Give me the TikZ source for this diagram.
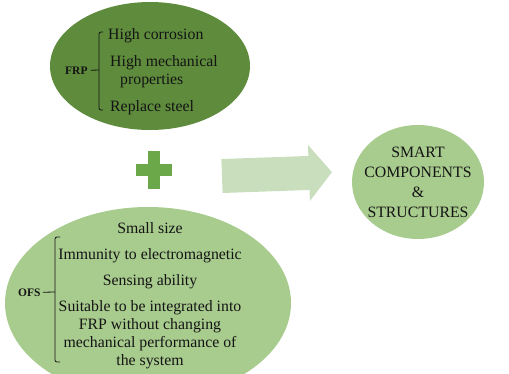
\documentclass[tikz,border=0pt]{standalone}
\usepackage{fontspec}
\setmainfont{Liberation Serif}
\usetikzlibrary{shapes.geometric}
\definecolor{frpgreen}{HTML}{5E8B3C}
\definecolor{lightgreen}{HTML}{A8CB8E}
\definecolor{arrowgreen}{HTML}{C8DEBC}
\definecolor{plusgreen}{HTML}{6AA84A}
\definecolor{inktext}{HTML}{141414}

\begin{document}
\begin{tikzpicture}[x=1pt,y=-1pt,
  blob/.style={ellipse, inner sep=0pt, draw=none},
  item/.style={anchor=base west, inner sep=0pt, text=inktext, font=\rmfamily\fontsize{15.8}{18}\selectfont},
  citem/.style={anchor=base, inner sep=0pt, text=inktext, font=\rmfamily\fontsize{15.8}{18}\selectfont},
  tag/.style={anchor=base west, inner sep=0pt, text=inktext, font=\rmfamily\fontsize{11.5}{13}\selectfont\bfseries},
  brk/.style={draw=inktext, line width=0.8pt, rounded corners=2pt},
]
\useasboundingbox (0,0) rectangle (509,373);
\clip (0,0) rectangle (509,373);

% the three ellipses
\node[blob, fill=frpgreen, minimum width=200, minimum height=128] (frp) at (150,66) {};
\node[blob, fill=lightgreen, minimum width=286, minimum height=192] (ofs) at (148,303) {};
\node[blob, fill=lightgreen, minimum width=132, minimum height=114] (smart) at (418,182) {};

% plus sign
\fill[plusgreen] (148,151) rectangle (160,189);
\fill[plusgreen] (136,164) rectangle (172,176);

% block arrow
\fill[arrowgreen, rotate around={2:(222,176)}]
  (222,159) -- (309,159) -- (309,148) -- (332,176) -- (309,204) -- (309,193) -- (222,193) -- cycle;

% FRP properties
\node[tag] (frptag) at (65,74) {FRP};
\coordinate (frpjoin) at (99,70);
\draw[brk] (103,32) -- (99,32) -- (99,110) -- (103,110);
\draw[brk] ([xshift=3pt]frptag.east) -- (frpjoin);
\node[item] (f1) at (108,39) {High corrosion};
\node[item] (f2) at (110,66) {High mechanical};
\node[item] (f3) at (120,84) {properties};
\node[item] (f4) at (110,111) {Replace steel};

% OFS properties
\node[tag] (ofstag) at (18,296) {OFS};
\coordinate (ofsjoin) at (55,292);
\draw[brk] (60,237) -- (55,237) -- (55,362) -- (60,362);
\draw[brk] ([xshift=2pt]ofstag.east) -- (ofsjoin);
\node[citem] (o1) at (150,233) {Small size};
\node[citem] (o2) at (150,259) {Immunity to electromagnetic};
\node[citem] (o3) at (150,285) {Sensing ability};
\node[citem] (o4) at (150,311) {Suitable to be integrated into};
\node[citem] (o5) at (150,329) {FRP without changing};
\node[citem] (o6) at (150,347) {mechanical performance of};
\node[citem] (o7) at (150,365) {the system};

% result
\node[inner sep=0pt, text=inktext, align=center, font=\rmfamily\fontsize{15.8}{20}\selectfont] (smarttext) at (smart.center) {SMART\\COMPONENTS\\\&\\STRUCTURES};
\end{tikzpicture}
\end{document}
